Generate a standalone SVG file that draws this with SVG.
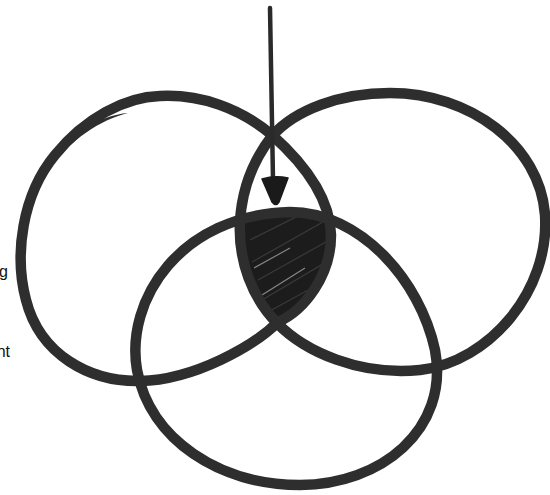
<svg xmlns="http://www.w3.org/2000/svg" width="550" height="495" viewBox="0 0 550 495">
<style>
.ring{fill:none;stroke:#2e2e2e;stroke-width:10.5;stroke-linejoin:round}
.lbl{font-family:"Liberation Sans",Arial,sans-serif;font-size:16px;fill:#111}
.hatch{stroke:#3a3a3a;stroke-width:1.2;fill:none}
</style>
<defs>
<clipPath id="lensClip"><path d="M241,217 C270,212 305,212 330,222 C332,265 310,305 278,322 C252,298 238,260 241,217 Z"/></clipPath>
</defs>
<rect width="550" height="495" fill="#fff"/>
<g id="lens">
<path d="M241,217 C270,212 305,212 330,222 C332,265 310,305 278,322 C252,298 238,260 241,217 Z" fill="#1c1c1c"/>
<g clip-path="url(#lensClip)">
<path class="hatch" d="M250,240 L320,205 M252,262 L330,218 M258,280 L333,238 M262,300 L333,258 M268,312 L330,278"/>
<path d="M254,268 L290,248 M262,295 L305,268" stroke="#8a8a8a" stroke-width="1.1"/>
</g>
</g>
<g id="circle-left">
<path class="ring" d="M160,96 C200,94 240,108 272,135 C300,160 330,195 331,235 C331,275 305,310 278,322 C255,345 195,380 140,381 C90,382 40,355 26,300 C14,255 22,195 55,155 C85,118 125,97 160,96 Z"/>
<path d="M50,168 C70,140 100,120 128,113 C115,114 95,120 78,132 C65,142 55,155 50,168 Z" fill="#2e2e2e"/>
</g>
<g id="circle-right">
<path class="ring" d="M390,93 C470,93 540,145 545,215 C550,290 490,362 420,370 C360,376 305,352 277,323 C252,298 238,260 240,222 C242,185 255,158 272,136 C295,110 340,93 390,93 Z"/>
</g>
<g id="circle-bottom">
<path class="ring" d="M290,212 C360,212 420,280 435,350 C450,430 380,485 300,485 C220,485 150,440 137,370 C125,300 180,215 290,212 Z"/>
</g>
<g id="connectors">
<path d="M270,8 L273,180" stroke="#2a2a2a" stroke-width="4.5" stroke-linecap="round" fill="none"/>
<path d="M262,179 Q275,175 288,178 L279,202 Q276,207 272,202 Z" fill="#1a1a1a" stroke="#1a1a1a" stroke-width="1.5" stroke-linejoin="round"/>
</g>
<g id="labels">
<text class="lbl" x="8" y="277" text-anchor="end">g</text>
<text class="lbl" x="10" y="357" text-anchor="end">nt</text>
</g>
</svg>
